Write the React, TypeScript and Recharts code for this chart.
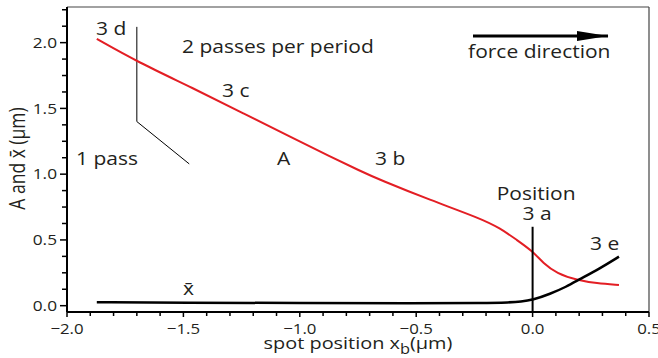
import React from 'react';
import { LineChart, Line, XAxis, YAxis, ReferenceLine, ReferenceDot } from 'recharts';

// amplitude A (red) and mean position x-bar (black) against spot position
const ampX = [-1.872, -1.7, -1.457, -1.243, -1.028, -0.87, -0.741, -0.655, -0.441, -0.226, -0.14, -0.068, 0.0, 0.046, 0.104, 0.19, 0.275, 0.371];
const ampY = [2.028, 1.856, 1.653, 1.463, 1.273, 1.135, 1.025, 0.956, 0.804, 0.665, 0.59, 0.5, 0.415, 0.322, 0.246, 0.195, 0.17, 0.157];
const meanX = [-1.872, -1.5, -1.0, -0.5, -0.2, -0.1, -0.05, 0.0, 0.075, 0.146, 0.196, 0.29, 0.371];
const meanY = [0.027, 0.023, 0.02, 0.018, 0.02, 0.025, 0.03, 0.043, 0.089, 0.145, 0.195, 0.284, 0.373];

// pointer from "3 d" label, the position 3a marker and the force arrow
const pointerX = [-1.7, -1.7, -1.475];
const pointerY = [2.12, 1.4, 1.078];
const positionX = [0, 0];
const positionY = [0.6, -0.048];
const arrowX = [-0.256, 0.324];
const arrowY = [2.05, 2.05];

const xMajorTicks = [-2, -1.5, -1, -0.5, 0, 0.5];
const xMinorTicks = [-1.9, -1.8, -1.7, -1.6, -1.4, -1.3, -1.2, -1.1, -0.9, -0.8, -0.7, -0.6, -0.4, -0.3, -0.2, -0.1, 0.1, 0.2, 0.3, 0.4];
const yMajorTicks = [0, 0.5, 1, 1.5, 2];
const yMinorTicks = [0.125, 0.25, 0.375, 0.625, 0.75, 0.875, 1.125, 1.25, 1.375, 1.625, 1.75, 1.875, 2.125, 2.25];

const notes = [
  { text: '3 d', x: -1.875, y: 2.059, anchor: 'start' },
  { text: '2 passes per period', x: -1.506, y: 1.922, anchor: 'start' },
  { text: '3 c', x: -1.334, y: 1.587, anchor: 'start' },
  { text: '1 pass', x: -1.961, y: 1.07, anchor: 'start' },
  { text: 'A', x: -1.098, y: 1.07, anchor: 'start' },
  { text: '3 b', x: -0.677, y: 1.07, anchor: 'start' },
  { text: 'Position', x: 0.015, y: 0.803, anchor: 'middle' },
  { text: '3 a', x: 0.019, y: 0.652, anchor: 'middle' },
  { text: '3 e', x: 0.247, y: 0.424, anchor: 'start' },
  { text: 'x\u0304', x: -1.502, y: 0.081, anchor: 'start' },
  { text: 'force direction', x: -0.277, y: 1.884, anchor: 'start' }
];

const X_MIN = -2;
const X_MAX = 0.5;
const Y_MIN = -0.048;
const Y_MAX = 2.271;

const FONT = '"Open Sans", sans-serif';
const INK = '#231f20';
const RED = '#e31e24';

const zip = (xs: number[], ys: number[]) => xs.map((x, i) => ({ x, y: ys[i] }));
const ampData = zip(ampX, ampY);
const meanData = zip(meanX, meanY);
const pointerData = zip(pointerX, pointerY);
const positionData = zip(positionX, positionY);
const arrowData = zip(arrowX, arrowY);

const xTicks = [...xMajorTicks, ...xMinorTicks].sort((a, b) => a - b);
const yTicks = [...yMajorTicks, ...yMinorTicks].sort((a, b) => a - b);
const isMajor = (list: number[], v: number) => list.some((t) => Math.abs(t - v) < 1e-6);
const fmt = (v: number) => v.toFixed(1).replace('-', '\u2212');

function Stretch({ x, y, anchor = 'start', size = 17.5, sx = 1.2, children }: any) {
  return (
    <text
      transform={`translate(${x},${y}) scale(${sx},1)`}
      textAnchor={anchor}
      fontFamily={FONT}
      fontSize={size}
      fill={INK}
    >
      {children}
    </text>
  );
}

function XTick({ x, y, payload }: any) {
  const major = isMajor(xMajorTicks, payload.value);
  return (
    <g>
      <line x1={x} y1={y} x2={x} y2={y + (major ? 5 : 4)} stroke="#000" strokeWidth={1.5} />
      {major && (
        <Stretch x={x} y={y + 22} anchor="middle" size={15} sx={1.12}>
          {fmt(payload.value)}
        </Stretch>
      )}
    </g>
  );
}

function YTick({ x, y, payload }: any) {
  const major = isMajor(yMajorTicks, payload.value);
  return (
    <g>
      <line x1={x} y1={y} x2={x - (major ? 7 : 5)} y2={y} stroke="#000" strokeWidth={1.5} />
      {major && (
        <Stretch x={x - 10} y={y + 5.3} anchor="end" size={15} sx={1.15}>
          {fmt(payload.value)}
        </Stretch>
      )}
    </g>
  );
}

function XTitle({ viewBox }: any) {
  const cx = viewBox.x + viewBox.width / 2;
  return (
    <Stretch x={cx} y={viewBox.y + 37} anchor="middle" size={17} sx={1.17}>
      spot position x
      <tspan fontSize={14} dy={5}>b</tspan>
      <tspan dy={-5}>(μm)</tspan>
    </Stretch>
  );
}

function YTitle({ viewBox }: any) {
  const cy = viewBox.y + viewBox.height / 2 - 1;
  return (
    <text
      transform={`translate(25,${cy}) scale(1.2,1) rotate(-90)`}
      textAnchor="middle"
      fontFamily={FONT}
      fontSize={17.5}
      fill={INK}
    >
      A and x{'\u0304'} (μm)
    </text>
  );
}

function ArrowHead(props: any) {
  const { cx, cy, index } = props;
  if (index !== arrowData.length - 1) return <g key={`a${index}`} />;
  return <polygon key={`a${index}`} points={`${cx},${cy} ${cx - 31},${cy - 5} ${cx - 31},${cy + 5}`} fill="#000" />;
}

export default function App() {
  return (
    <div style={{ width: 658, height: 358, background: '#fff' }}>
      <style>{'body{margin:0}'}</style>
      <LineChart width={658} height={358} margin={{ top: 7, right: 9, left: 0, bottom: 0 }}>
        <XAxis
          type="number"
          dataKey="x"
          domain={[X_MIN, X_MAX]}
          ticks={xTicks}
          interval={0}
          height={46}
          tickSize={0}
          tickMargin={0}
          tickLine={false}
          axisLine={{ stroke: '#000', strokeWidth: 2 }}
          tick={<XTick />}
          label={{ content: <XTitle /> }}
        />
        <YAxis
          type="number"
          dataKey="y"
          domain={[Y_MIN, Y_MAX]}
          ticks={yTicks}
          interval={0}
          width={67}
          tickSize={0}
          tickMargin={0}
          tickLine={false}
          axisLine={{ stroke: '#000', strokeWidth: 2 }}
          tick={<YTick />}
          label={{ content: <YTitle /> }}
        />
        <ReferenceLine y={Y_MAX} stroke="#444" strokeWidth={1.2} />
        <ReferenceLine x={X_MAX} stroke="#444" strokeWidth={1.2} />
        <Line data={pointerData} dataKey="y" type="linear" stroke="#000" strokeWidth={1} dot={false} isAnimationActive={false} />
        <Line data={ampData} dataKey="y" type="basis" stroke={RED} strokeWidth={2} dot={false} isAnimationActive={false} />
        <Line data={meanData} dataKey="y" type="basis" stroke="#000" strokeWidth={2.5} dot={false} isAnimationActive={false} />
        <Line data={positionData} dataKey="y" type="linear" stroke="#000" strokeWidth={2} dot={false} isAnimationActive={false} />
        <Line
          data={arrowData}
          dataKey="y"
          type="linear"
          stroke="#000"
          strokeWidth={3}
          dot={<ArrowHead />}
          isAnimationActive={false}
        />
        {notes.map((n) => (
          <ReferenceDot
            key={n.text}
            x={n.x}
            y={n.y}
            r={0}
            shape={(p: any) => (
              <Stretch x={p.cx} y={p.cy} anchor={n.anchor}>
                {n.text}
              </Stretch>
            )}
          />
        ))}
      </LineChart>
    </div>
  );
}
